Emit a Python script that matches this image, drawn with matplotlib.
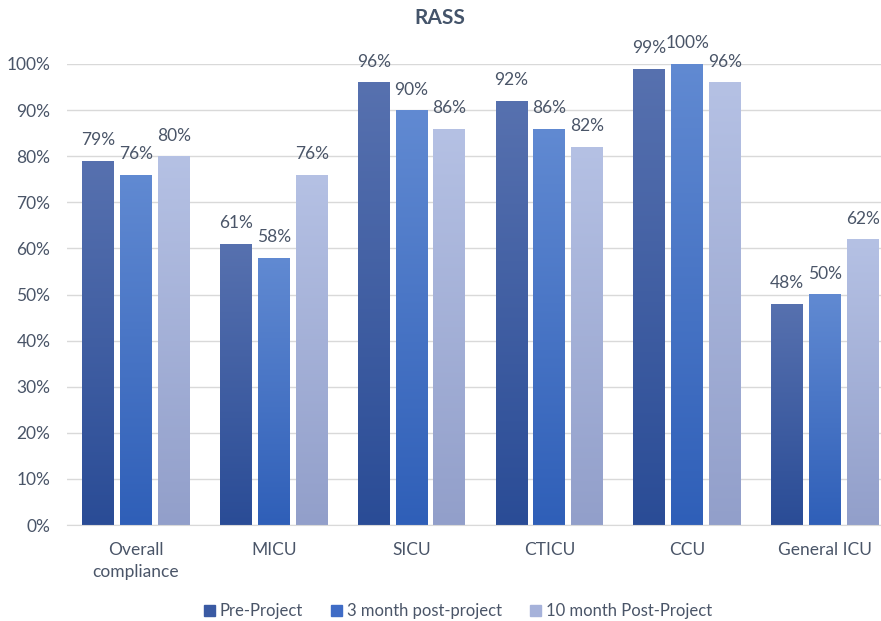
import numpy as np
import matplotlib.pyplot as plt
from matplotlib.colors import LinearSegmentedColormap

categories = ["Overall\ncompliance", "MICU", "SICU", "CTICU", "CCU", "General ICU"]
series_names = ["Pre-Project", "3 month post-project", "10 month Post-Project"]
pre_project = [79, 61, 96, 92, 99, 48]
month3 = [76, 58, 90, 86, 100, 50]
month10 = [80, 76, 86, 82, 96, 62]

# (bottom colour, top colour) of each bar gradient
grads = [("#2A4C96", "#5771AF"), ("#2F5FB8", "#618AD2"), ("#929FCA", "#B5C1E4")]
legend_cols = ["#3A5AA3", "#3F6CC6", "#A6B2DA"]
txt = "#4A5568"

plt.rcParams['font.family'] = ['Lato', 'DejaVu Sans']

fig = plt.figure(figsize=(8.81, 6.21), dpi=100)
ax = fig.add_axes([67/881, 1-525/621, 827/881, (525-64)/621])

x = np.arange(len(categories))
step = 0.275
width = 0.232
grad = np.linspace(0, 1, 256).reshape(-1, 1)

handles = []
for k, vals in enumerate([pre_project, month3, month10]):
    cmap = LinearSegmentedColormap.from_list("g%d" % k, list(grads[k]))
    pos = x + (k - 1) * step
    bars = ax.bar(pos, vals, width, color="none", edgecolor="none", zorder=2)
    for b, v in zip(bars, vals):
        x0 = b.get_x()
        im = ax.imshow(grad, cmap=cmap, origin="lower", aspect="auto",
                       extent=[x0, x0 + width, 0, v], zorder=2)
        im.set_clip_path(b)
        ax.annotate("%d%%" % v, (b.get_x() + width / 2, v), xytext=(0, 9),
                    textcoords="offset points", ha="center", va="bottom",
                    fontsize=12.5, color=txt)
    handles.append(plt.Rectangle((0, 0), 1, 1, color=legend_cols[k]))

ax.set_xlim(-0.5, len(categories) - 0.5)
ax.set_ylim(0, 100)
ax.set_yticks(np.arange(0, 101, 10))
ax.set_yticklabels(["%d%%" % t for t in range(0, 101, 10)])
ax.set_xticks(x)
ax.set_xticklabels(categories, linespacing=1.45)
ax.tick_params(axis="both", length=0, labelsize=12.5, colors=txt)
ax.tick_params(axis="y", pad=12)
ax.tick_params(axis="x", pad=12)
ax.grid(axis="y", color="#D9D9D9", linewidth=1, zorder=0)
ax.set_axisbelow(True)
for s in ["top", "right", "left"]:
    ax.spines[s].set_visible(False)
ax.spines["bottom"].set_color("#D9D9D9")

fig.text(440/881, 1-18/621, "RASS", ha="center", va="center",
         fontsize=15, fontweight="bold", color="#44546A")

fig.legend(handles, series_names, loc="center", bbox_to_anchor=(458/881, 1-611/621),
           ncol=3, frameon=False, fontsize=12, handlelength=0.65, handleheight=0.65,
           columnspacing=1.7, handletextpad=0.3, labelcolor=txt)

fig.savefig("out.png", dpi=100)
